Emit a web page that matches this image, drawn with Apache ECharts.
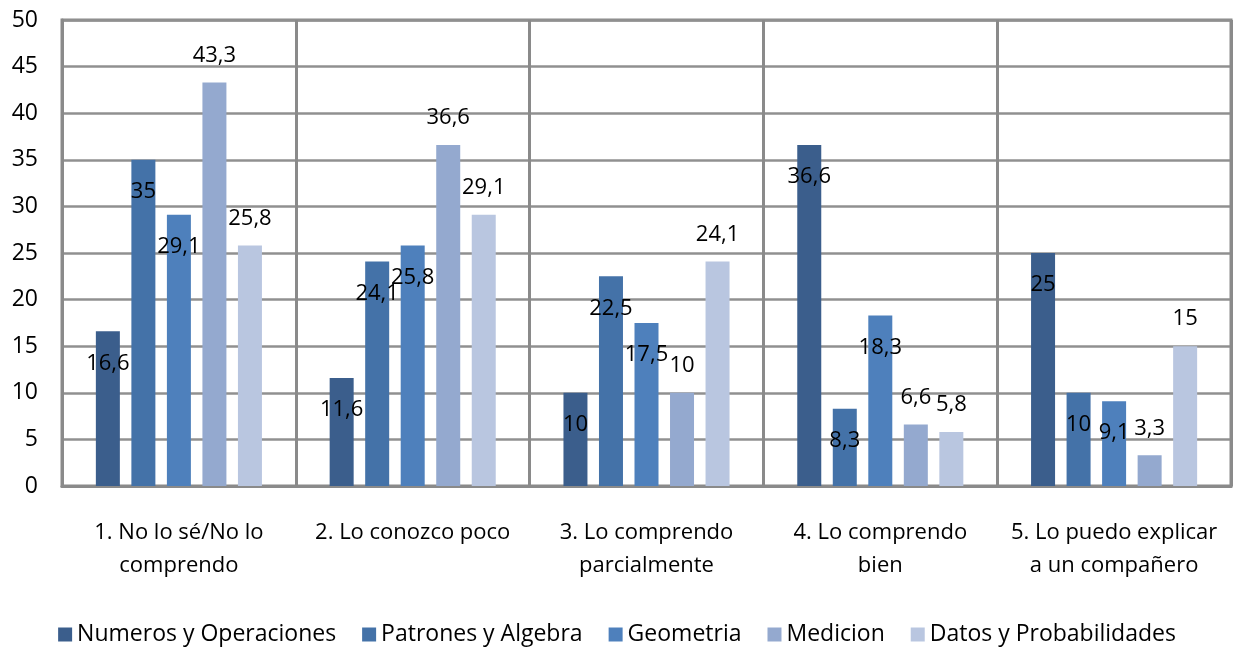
<!DOCTYPE html>
<html>
<head>
<meta charset="utf-8">
<script src="https://cdn.jsdelivr.net/npm/echarts@6/dist/echarts.min.js"></script>
<style>html,body{margin:0;padding:0;background:#fff;}#c{width:1234px;height:652px;}</style>
</head>
<body>
<div id="c"></div>
<script>
const categories = [
  "1. No lo sé/No lo\ncomprendo",
  "2. Lo conozco poco",
  "3. Lo comprendo\nparcialmente",
  "4. Lo comprendo\nbien",
  "5. Lo puedo explicar\na un compañero"
];
const seriesNames = ["Numeros y Operaciones", "Patrones y Algebra", "Geometria", "Medicion", "Datos y Probabilidades"];
const numeros = [16.6, 11.6, 10, 36.6, 25];
const patrones = [35, 24.1, 22.5, 8.3, 10];
const geometria = [29.1, 25.8, 17.5, 18.3, 9.1];
const medicion = [43.3, 36.6, 10, 6.6, 3.3];
const datos = [25.8, 29.1, 24.1, 5.8, 15];
const yTicks = [0, 50, 5];

const colors = ["#3B5E8C", "#4472A8", "#4E80BC", "#94A9CF", "#B9C6E0"];
const font = "'Open Sans', sans-serif";
const values = [numeros, patrones, geometria, medicion, datos];
const insideLabel = [true, true, true, false, false];

const chart = echarts.init(document.getElementById('c'));
chart.setOption({
  animation: false,
  textStyle: { fontFamily: font },
  grid: { left: 62, right: 3, top: 20, bottom: 166, show: true, borderColor: '#8a8a8a', borderWidth: 3, containLabel: false },
  legend: {
    bottom: 1, left: 'center', itemWidth: 14, itemHeight: 14, itemGap: 26, icon: 'rect',
    textStyle: { fontFamily: font, fontSize: 23, color: '#000' },
    data: seriesNames
  },
  xAxis: {
    type: 'category', data: categories,
    axisLine: { show: true, lineStyle: { color: '#8a8a8a', width: 3 } },
    axisTick: { show: false },
    splitLine: { show: true, interval: 0, lineStyle: { color: '#8a8a8a', width: 3 } },
    axisLabel: { interval: 0, fontFamily: font, fontSize: 22, color: '#000', lineHeight: 33, margin: 30 }
  },
  yAxis: {
    type: 'value', min: yTicks[0], max: yTicks[1], interval: yTicks[2],
    axisLine: { show: true, lineStyle: { color: '#8a8a8a', width: 3 } },
    axisTick: { show: false },
    splitLine: { show: true, lineStyle: { color: '#909090', width: 2.5 } },
    axisLabel: { fontFamily: font, fontSize: 23, color: '#000', margin: 24 }
  },
  series: seriesNames.map((n, i) => ({
    name: n, type: 'bar', data: values[i],
    barWidth: 24, barGap: '48%',
    itemStyle: { color: colors[i] },
    label: {
      show: true,
      position: insideLabel[i] ? 'insideTop' : 'top',
      distance: insideLabel[i] ? 21 : 16,
      fontFamily: font, fontSize: 22, lineHeight: 22, color: '#000',
      formatter: p => String(p.value).replace('.', ',')
    }
  }))
});
</script>
</body>
</html>
